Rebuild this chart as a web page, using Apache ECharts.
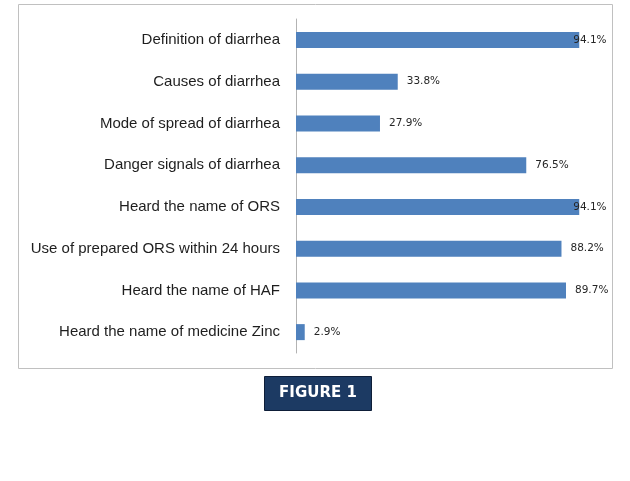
<!DOCTYPE html>
<html>
<head>
<meta charset="utf-8">
<script src="https://cdn.jsdelivr.net/npm/echarts@6/dist/echarts.min.js"></script>
<style>
  html, body { margin: 0; padding: 0; background: #fff; }
  #chart { width: 630px; height: 481px; }
</style>
</head>
<body>
<div id="chart"></div>
<script>
const categories = [
  'Definition of diarrhea',
  'Causes of diarrhea',
  'Mode of spread of diarrhea',
  'Danger signals of diarrhea',
  'Heard the name of ORS',
  'Use of prepared ORS within 24 hours',
  'Heard the name of HAF',
  'Heard the name of medicine Zinc'
]
const percents = [94.1, 33.8, 27.9, 76.5, 94.1, 88.2, 89.7, 2.9]

const chart = echarts.init(document.getElementById('chart'))

// labels on the longest bars get pulled back over the bar end, like the original
const barData = percents.map(v => ({
  value: v,
  label: v > 93 ? { distance: -6 } : {}
}))

chart.setOption({
  animation: false,
  grid: { left: 296, right: 33, top: 19, bottom: 128 },
  xAxis: {
    type: 'value',
    min: 0,
    max: 100,
    show: false
  },
  yAxis: {
    type: 'category',
    inverse: true,
    data: categories,
    axisLine: { show: true, lineStyle: { color: '#b3b3b3', width: 1 } },
    axisTick: { show: false },
    axisLabel: {
      margin: 16,
      fontFamily: 'Liberation Sans',
      fontSize: 15,
      color: '#1e1e1e'
    }
  },
  series: [{
    type: 'bar',
    data: barData,
    barWidth: 16,
    itemStyle: { color: '#4f81bd' },
    label: {
      show: true,
      position: 'right',
      distance: 9,
      formatter: p => p.value.toFixed(1) + '%',
      fontFamily: 'DejaVu Sans',
      fontSize: 10.5,
      color: '#262626'
    }
  }],
  graphic: [
    {
      type: 'rect',
      shape: { x: 18.5, y: 4.5, width: 594, height: 364 },
      style: { fill: 'none', stroke: '#c0c0c0', lineWidth: 1 },
      silent: true
    },
    {
      type: 'rect',
      shape: { x: 264.5, y: 376.5, width: 107, height: 34 },
      style: { fill: '#1c3a63', stroke: '#0e1e38', lineWidth: 1 }
    },
    {
      type: 'text',
      x: 318,
      y: 393.5,
      style: {
        text: 'FIGURE 1',
        fill: '#fff',
        font: 'bold 15px "DejaVu Sans"',
        align: 'center',
        verticalAlign: 'middle'
      }
    }
  ]
})
</script>
</body>
</html>
